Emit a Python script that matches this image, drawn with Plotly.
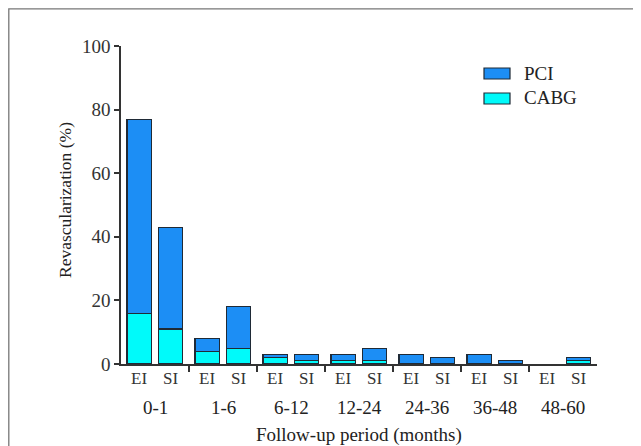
import plotly.graph_objects as go

groups = ["0-1", "1-6", "6-12", "12-24", "24-36", "36-48", "48-60"]
arms = ["EI", "SI"]
cabg_ei = [16, 4, 2, 1, 0, 0, 0]
pci_ei = [61, 4, 1, 2, 3, 3, 0]
cabg_si = [11, 5, 1, 1, 0, 0, 1]
pci_si = [32, 13, 2, 4, 2, 1, 1]
y_ticks = [0, 20, 40, 60, 80, 100]

PCI_COLOR = "#1C8EF5"
CABG_COLOR = "#00FAFA"
EDGE = "#1F2A36"
FONT = "Liberation Serif"
OFFS = {"EI": 0.266, "SI": 0.724}
BW = 0.355

# page is offset by 8px (body margin); plot area in page px: x 121..597, y 46..364
def fx(px):
    return (px - 121) / 476.0

def fy(py):
    return (364 - py) / 318.0

def nz(v):
    return [None if x == 0 else x for x in v]

fig = go.Figure()
for arm, cab, pci in [("EI", cabg_ei, pci_ei), ("SI", cabg_si, pci_si)]:
    xs = [i + OFFS[arm] for i in range(len(groups))]
    fig.add_trace(go.Bar(x=xs, y=nz(cab), width=BW, name="CABG",
                         marker=dict(color=CABG_COLOR, line=dict(color=EDGE, width=1.2)),
                         showlegend=False))
    fig.add_trace(go.Bar(x=xs, y=nz(pci), width=BW, name="PCI",
                         marker=dict(color=PCI_COLOR, line=dict(color=EDGE, width=1.2)),
                         showlegend=False))

ann = []
for i, g in enumerate(groups):
    for arm in arms:
        ann.append(dict(x=i + OFFS[arm], y=fy(378), xref="x", yref="paper", text=arm,
                        showarrow=False, yanchor="middle",
                        font=dict(family=FONT, size=17, color="#333333")))
    ann.append(dict(x=i + 0.5, y=fy(407), xref="x", yref="paper", text=g,
                    showarrow=False, yanchor="middle",
                    font=dict(family=FONT, size=19, color="#222222")))
ann.append(dict(x=3.5, y=fy(435), xref="x", yref="paper", text="Follow-up period (months)",
                showarrow=False, yanchor="middle",
                font=dict(family=FONT, size=19, color="#222222")))
ann.append(dict(x=fx(65), y=fy(200), xref="paper", yref="paper", text="Revascularization (%)",
                showarrow=False, textangle=-90, xanchor="center", yanchor="middle",
                font=dict(family=FONT, size=17.5, color="#222222")))
# legend text
ann.append(dict(x=fx(522), y=fy(73), xref="paper", yref="paper", text="PCI", showarrow=False,
                xanchor="left", yanchor="middle", font=dict(family=FONT, size=19, color="#222222")))
ann.append(dict(x=fx(522), y=fy(98), xref="paper", yref="paper", text="CABG", showarrow=False,
                xanchor="left", yanchor="middle", font=dict(family=FONT, size=19, color="#222222")))

shapes = [
    dict(type="rect", xref="paper", yref="paper", x0=fx(484), x1=fx(510), y0=fy(79), y1=fy(68),
         fillcolor=PCI_COLOR, line=dict(color=EDGE, width=1.2)),
    dict(type="rect", xref="paper", yref="paper", x0=fx(484), x1=fx(510), y0=fy(104), y1=fy(93),
         fillcolor=CABG_COLOR, line=dict(color=EDGE, width=1.2)),
    # outer frame
    dict(type="rect", xref="paper", yref="paper", x0=fx(8.8), x1=fx(660),
         y0=fy(470), y1=fy(8.8), line=dict(color="#777777", width=1.3),
         fillcolor="rgba(0,0,0,0)", layer="below"),
]

fig.update_layout(
    width=633, height=438,
    margin=dict(l=113, r=44, t=38, b=82),
    paper_bgcolor="white", plot_bgcolor="white",
    barmode="stack",
    showlegend=False,
    annotations=ann,
    shapes=shapes,
    xaxis=dict(range=[0, 7], tickvals=list(range(1, 7)), ticktext=[""] * 6,
               ticks="outside", ticklen=6, tickwidth=1.5, tickcolor="#333333",
               showline=True, linecolor="#333333", linewidth=1.5,
               showgrid=False, zeroline=False, fixedrange=True),
    yaxis=dict(range=[0, 100], tickvals=y_ticks, ticks="outside", ticklen=5,
               tickwidth=1.5, tickcolor="#333333", showline=True, linecolor="#333333",
               linewidth=1.5, showgrid=False, zeroline=False,
               tickfont=dict(family=FONT, size=19, color="#333333")),
)

fig.write_html("out.html")
